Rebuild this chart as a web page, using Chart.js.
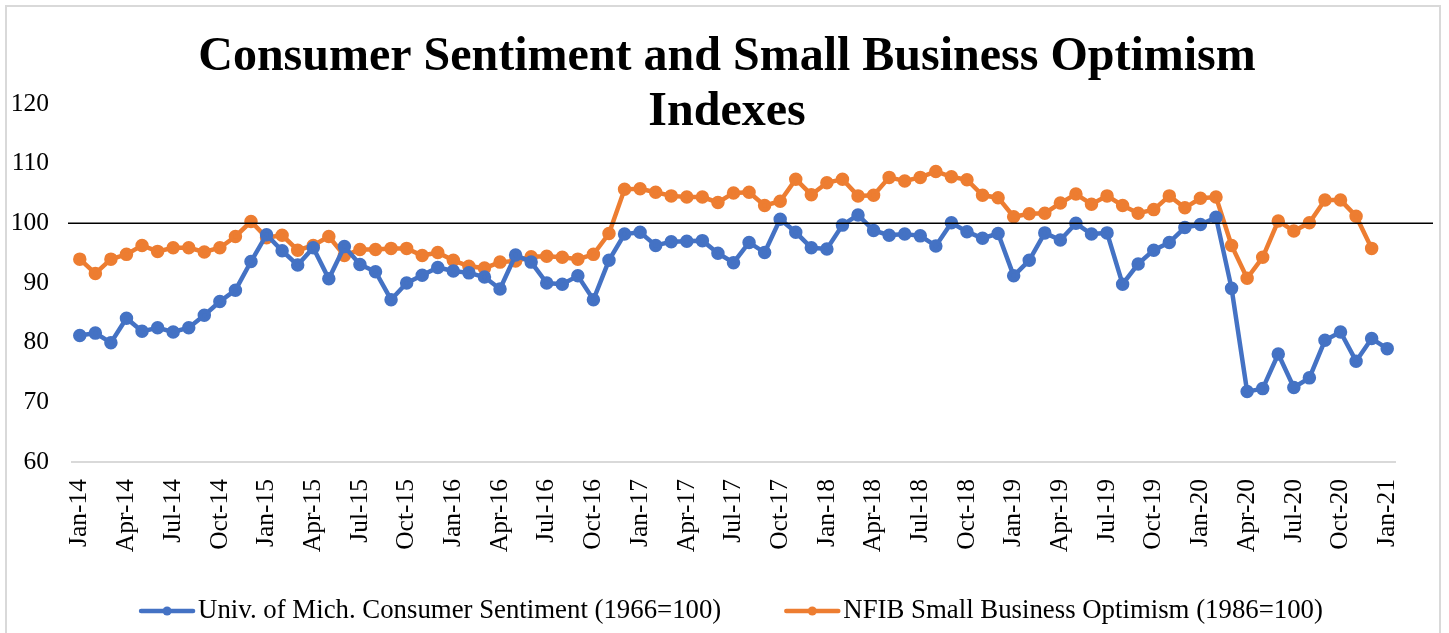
<!DOCTYPE html>
<html>
<head>
<meta charset="utf-8">
<script src="https://cdn.jsdelivr.net/npm/chart.js@4/dist/chart.umd.min.js"></script>
<style>
  html, body { margin: 0; padding: 0; background: #fff; }
  #wrap { position: relative; width: 1449px; height: 633px; }
  #frame { position: absolute; left: 5px; top: 5px; width: 1436px; height: 640px; border: 2px solid #d9d9d9; box-sizing: border-box; pointer-events: none; }
</style>
</head>
<body>
<div id="wrap">
  <canvas id="chart" width="1449" height="633"></canvas>
  <div id="frame"></div>
</div>
<script>
const FONT = "'Liberation Serif', 'Times New Roman', serif";

// monthly categories Jan-14 .. Jan-21
const months = ["Jan", "Feb", "Mar", "Apr", "May", "Jun", "Jul", "Aug", "Sep", "Oct", "Nov", "Dec"];
const years = ["14", "15", "16", "17", "18", "19", "20"];
let labels = [];
years.forEach(y => months.forEach(m => labels.push(m + "-" + y)));
labels.push("Jan-21");

// Univ. of Mich. Consumer Sentiment (1966=100)
const sentiment = [
  81.2, 81.6, 80.0, 84.1, 81.9, 82.5, 81.8, 82.5, 84.6, 86.9, 88.8, 93.6,
  98.1, 95.4, 93.0, 95.9, 90.7, 96.1, 93.1, 91.9, 87.2, 90.0, 91.3, 92.6,
  92.0, 91.7, 91.0, 89.0, 94.7, 93.5, 90.0, 89.8, 91.2, 87.2, 93.8, 98.2,
  98.5, 96.3, 96.9, 97.0, 97.1, 95.0, 93.4, 96.8, 95.1, 100.7, 98.5, 95.9,
  95.7, 99.7, 101.4, 98.8, 98.0, 98.2, 97.9, 96.2, 100.1, 98.6, 97.5, 98.3,
  91.2, 93.8, 98.4, 97.2, 100.0, 98.2, 98.4, 89.8, 93.2, 95.5, 96.8, 99.3,
  99.8, 101.0, 89.1, 71.8, 72.3, 78.1, 72.5, 74.1, 80.4, 81.8, 76.9, 80.7,
  79.0
];

// NFIB Small Business Optimism (1986=100), ends Dec-20
const optimism = [
  94.0, 91.6, 94.0, 94.8, 96.3, 95.3, 95.9, 95.9, 95.2, 95.9, 97.8, 100.3,
  97.6, 98.0, 95.5, 96.3, 97.8, 94.6, 95.6, 95.6, 95.8, 95.8, 94.6, 95.1,
  93.8, 92.8, 92.5, 93.5, 93.7, 94.4, 94.5, 94.3, 94.0, 94.8, 98.3, 105.7,
  105.8, 105.2, 104.6, 104.4, 104.4, 103.5, 105.1, 105.2, 103.0, 103.7, 107.4, 104.8,
  106.8, 107.4, 104.6, 104.7, 107.7, 107.1, 107.7, 108.7, 107.8, 107.3, 104.7, 104.3,
  101.1, 101.6, 101.7, 103.4, 104.9, 103.2, 104.6, 103.0, 101.7, 102.3, 104.6, 102.6,
  104.2, 104.4, 96.3, 90.8, 94.3, 100.4, 98.7, 100.1, 103.9, 103.9, 101.2, 95.8
];

const seriesNames = ["Univ. of Mich. Consumer Sentiment (1966=100)", "NFIB Small Business Optimism (1986=100)"];
const seriesColors = ["#4472C4", "#ED7D31"];
const titleLines = ["Consumer Sentiment and Small Business Optimism", "Indexes"];
const refValue = 100;

const overlay = {
  id: "overlay",
  afterDraw(chart) {
    const ctx = chart.ctx;
    const y = chart.scales.y.getPixelForValue(refValue);
    ctx.save();
    // reference line at 100
    ctx.strokeStyle = "#000";
    ctx.lineWidth = 1.5;
    ctx.beginPath();
    ctx.moveTo(68, y);
    ctx.lineTo(1433, y);
    ctx.stroke();

    // title
    ctx.fillStyle = "#000";
    ctx.textAlign = "center";
    ctx.textBaseline = "alphabetic";
    ctx.font = "bold 48px " + FONT;
    ctx.fillText(titleLines[0], 727, 70);
    ctx.fillText(titleLines[1], 727, 125);

    // legend
    ctx.font = "26.8px " + FONT;
    const lineW = 56, gapText = 3, gapItem = 63;
    let widths = seriesNames.map(n => ctx.measureText(n).width);
    let total = widths.reduce((a, w) => a + lineW + gapText + w, 0) + gapItem;
    let x = 731 - total / 2;
    const ly = 611;
    seriesNames.forEach((name, i) => {
      ctx.strokeStyle = seriesColors[i];
      ctx.lineWidth = 4.5;
      ctx.lineCap = "round";
      ctx.beginPath();
      ctx.moveTo(x + 2, ly);
      ctx.lineTo(x + lineW - 2, ly);
      ctx.stroke();
      ctx.fillStyle = seriesColors[i];
      ctx.beginPath();
      ctx.arc(x + lineW / 2, ly, 4.5, 0, Math.PI * 2);
      ctx.fill();
      ctx.fillStyle = "#000";
      ctx.textAlign = "left";
      ctx.textBaseline = "middle";
      ctx.fillText(name, x + lineW + gapText, ly);
      x += lineW + gapText + widths[i] + gapItem;
    });
    ctx.restore();
  }
};

new Chart(document.getElementById("chart"), {
  type: "line",
  data: {
    labels: labels,
    datasets: [
      {
        label: seriesNames[0],
        data: sentiment,
        borderColor: seriesColors[0],
        backgroundColor: seriesColors[0],
        borderWidth: 4.5,
        pointRadius: 4.5,
        pointHoverRadius: 4.5,
        tension: 0
      },
      {
        label: seriesNames[1],
        data: optimism,
        borderColor: seriesColors[1],
        backgroundColor: seriesColors[1],
        borderWidth: 4.5,
        pointRadius: 4.5,
        pointHoverRadius: 4.5,
        tension: 0
      }
    ]
  },
  options: {
    responsive: false,
    animation: false,
    events: [],
    layout: { padding: { top: 104, left: 0, right: 54, bottom: 0 } },
    plugins: {
      legend: { display: false },
      title: { display: false },
      tooltip: { enabled: false }
    },
    scales: {
      x: {
        offset: true,
        grid: { display: false, drawTicks: false },
        border: { display: true, color: "#d9d9d9", width: 2 },
        ticks: {
          autoSkip: false,
          maxRotation: 90,
          minRotation: 90,
          padding: 17,
          color: "#000",
          font: { family: FONT, size: 25.5 },
          callback: function (val, idx) { return idx % 3 === 0 ? this.getLabelForValue(val) : ""; }
        },
        afterFit: scale => { scale.height = 633 - 462; }
      },
      y: {
        min: 60,
        max: 120,
        grid: { display: false, drawTicks: false },
        border: { display: false },
        ticks: {
          stepSize: 10,
          padding: 23,
          color: "#000",
          font: { family: FONT, size: 25.5 }
        },
        afterFit: scale => { scale.width = 72; }
      }
    }
  },
  plugins: [overlay]
});
</script>
</body>
</html>
